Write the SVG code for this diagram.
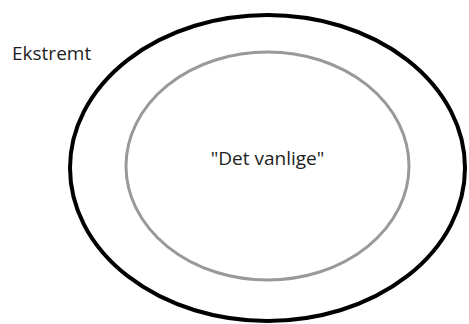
<svg xmlns="http://www.w3.org/2000/svg" width="469" height="324" viewBox="0 0 469 324">
<style>
.lbl{font-family:"Open Sans","Liberation Sans",sans-serif;font-size:19px;fill:#1e1e1e}
</style>
<rect width="469" height="324" fill="#fff"/>
<g id="ekstremt">
<ellipse cx="267.5" cy="168" rx="197.5" ry="153" fill="none" stroke="#000" stroke-width="4"/>
<text class="lbl" x="12" y="60">Ekstremt</text>
</g>
<g id="vanlige">
<ellipse cx="267.5" cy="166" rx="141.5" ry="114" fill="none" stroke="#999" stroke-width="3"/>
<text class="lbl" x="267.5" y="165" text-anchor="middle">"Det vanlige"</text>
</g>
<g id="connectors"/>
</svg>
